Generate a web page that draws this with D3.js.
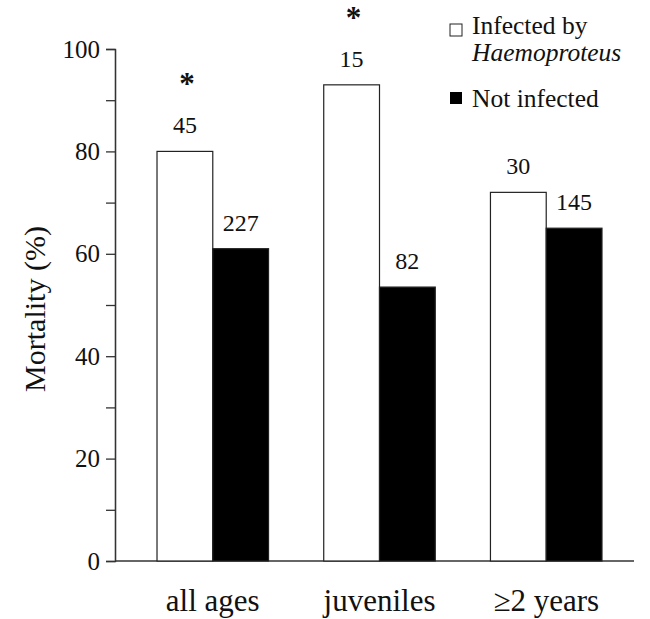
<!DOCTYPE html>
<html>
<head>
<meta charset="utf-8">
<script src="https://cdn.jsdelivr.net/npm/d3@7"></script>
<style>
  body { margin: 0; background: #fff; }
  svg text { font-family: "Liberation Serif", "Times New Roman", "DejaVu Serif", serif; fill: #111; }
  .axis path, .axis line { stroke: #333; stroke-width: 1.3; }
  .axis text { font-size: 25px; }
</style>
</head>
<body>
<script>
// data
var groups = ["all ages", "juveniles", "\u22652 years"];
var series = ["Infected by", "Not infected"];
var infected = [80, 93, 72];
var notInfected = [61, 53.5, 65];
var nInfected = [45, 15, 30];
var nNotInfected = [227, 82, 145];
var significant = [true, true, false];
var majorTicks = [0, 20, 40, 60, 80, 100];
var minorTicks = [10, 30, 50, 70, 90];

var width = 650, height = 619;
var serif = "'Liberation Serif', 'Times New Roman', 'DejaVu Serif', serif";

var svg = d3.select("body").append("svg")
    .attr("width", width)
    .attr("height", height)
    .attr("font-family", serif);

var y = d3.scaleLinear().domain([0, 100]).range([561, 49]);

var x0 = d3.scaleBand().domain(groups).range([127, 632])
    .paddingInner(0.331).paddingOuter(0.18);
var x1 = d3.scaleBand().domain(series).range([0, x0.bandwidth()]);

var data = groups.map(function(g, i) {
  return [
    {group: g, key: series[0], value: infected[i], n: nInfected[i], star: significant[i]},
    {group: g, key: series[1], value: notInfected[i], n: nNotInfected[i], star: false}
  ];
});

// x axis baseline (no ticks)
svg.append("line")
    .attr("x1", 115).attr("x2", 634)
    .attr("y1", y(0)).attr("y2", y(0))
    .attr("stroke", "#333").attr("stroke-width", 1.5);

// y axis
svg.append("g")
    .attr("class", "axis")
    .attr("transform", "translate(115,0)")
    .call(d3.axisLeft(y).tickValues(minorTicks).tickSize(9).tickFormat(""));

svg.append("g")
    .attr("class", "axis")
    .attr("transform", "translate(115,0)")
    .call(d3.axisLeft(y).tickValues(majorTicks).tickSize(9).tickPadding(6).tickSizeOuter(0))
    .attr("font-family", serif);

svg.append("text")
    .attr("transform", "translate(45,309) rotate(-90)")
    .style("text-anchor", "middle")
    .attr("font-size", "30px")
    .text("Mortality (%)");

var g = svg.selectAll(".grp")
    .data(data)
  .enter().append("g")
    .attr("transform", function(d) { return "translate(" + x0(d[0].group) + ",0)"; });

g.selectAll("rect")
    .data(function(d) { return d; })
  .enter().append("rect")
    .attr("x", function(d) { return x1(d.key); })
    .attr("width", x1.bandwidth())
    .attr("y", function(d) { return y(d.value); })
    .attr("height", function(d) { return y(0) - y(d.value); })
    .attr("fill", function(d) { return d.key == series[0] ? "#fff" : "#000"; })
    .attr("stroke", "#222")
    .attr("stroke-width", 1.2);

g.selectAll(".n")
    .data(function(d) { return d; })
  .enter().append("text")
    .attr("class", "n")
    .attr("x", function(d) { return x1(d.key) + x1.bandwidth() / 2; })
    .attr("y", function(d) { return y(d.value) - 18; })
    .style("text-anchor", "middle")
    .attr("font-size", "24px")
    .text(function(d) { return d.n; });

g.selectAll(".star")
    .data(function(d) { return d.filter(function(e) { return e.star; }); })
  .enter().append("text")
    .attr("class", "star")
    .attr("x", function(d) { return x1(d.key) + x1.bandwidth() / 2 + 2; })
    .attr("y", function(d) { return y(d.value) - 57; })
    .style("text-anchor", "middle")
    .attr("font-size", "31px")
    .attr("font-weight", "bold")
    .text("*");

svg.selectAll(".cat")
    .data(groups)
  .enter().append("text")
    .attr("class", "cat")
    .attr("x", function(d) { return x0(d) + x0.bandwidth() / 2; })
    .attr("y", 611)
    .style("text-anchor", "middle")
    .attr("font-size", "31px")
    .text(function(d) { return d; });

// legend
var leg = svg.append("g");
leg.append("rect").attr("x", 450).attr("y", 24).attr("width", 12).attr("height", 12)
    .attr("fill", "#fff").attr("stroke", "#222").attr("stroke-width", 1);
leg.append("text").attr("x", 472).attr("y", 34).attr("font-size", "25.5px").text(series[0]);
leg.append("text").attr("x", 472).attr("y", 61).attr("font-size", "25.5px")
    .attr("font-style", "italic").text("Haemoproteus");
leg.append("rect").attr("x", 450).attr("y", 92).attr("width", 12).attr("height", 12)
    .attr("fill", "#000");
leg.append("text").attr("x", 472).attr("y", 107).attr("font-size", "25.5px").text(series[1]);
</script>
</body>
</html>
